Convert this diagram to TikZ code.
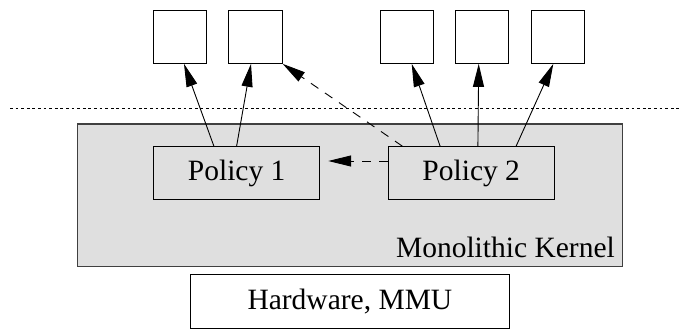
\documentclass[tikz,border=0pt]{standalone}
\usepackage{fontspec}
\setmainfont{Liberation Serif}
\usetikzlibrary{arrows.meta,calc}
\begin{document}
\begin{tikzpicture}[x=1pt,y=1pt,
  font=\fontsize{29.5}{35}\selectfont,
  app/.style={draw,line width=1pt,minimum width=53.3pt,minimum height=53.3pt,inner sep=0pt},
  policy/.style={draw,line width=1pt,fill=gray!25,minimum width=166pt,minimum height=52.6pt,inner sep=0pt},
  call/.style={line width=0.9pt,-{Triangle[length=23pt,width=11pt]}},
  upcall/.style={call,dash pattern=on 9pt off 8pt}]
  \useasboundingbox (0,0) rectangle (679,329);

  % user/kernel boundary
  \draw[line width=0.9pt,dash pattern=on 2.8pt off 2.8pt] (10,220.2) -- (679,220.2);

  % kernel
  \node[draw=black!75,line width=1.2pt,fill=gray!25,minimum width=545pt,minimum height=142.7pt,inner sep=0pt]
    (kern) at (350,133.65) {};
  \node[anchor=base east,inner sep=0pt] (klabel) at (615,71) {Monolithic Kernel};

  % policies
  \node[policy] (p1) at (236.7,156) {Policy 1};
  \node[policy] (p2) at (471.2,156) {Policy 2};

  % hardware
  \node[draw,line width=1pt,minimum width=318.3pt,minimum height=53.5pt,inner sep=0pt]
    (hw) at (349.9,27.75) {Hardware, MMU};

  % user-level tasks
  \node[app] (u1) at (180,292.3) {};
  \node[app] (u2) at (255.5,292.3) {};
  \node[app] (u3) at (406.7,292.3) {};
  \node[app] (u4) at (482.2,292.3) {};
  \node[app] (u5) at (558,292.3) {};

  % connections
  \draw[call] ($(p1.north west)+(60.7,0)$) -- ($(u1.south)+(4,0)$);
  \draw[call] ($(p1.north west)+(83.4,0)$) -- ($(u2.south)+(-4.5,0)$);
  \draw[call] ($(p2.north west)+(52.4,0)$) -- ($(u3.south)+(5,0)$);
  \draw[call] ($(p2.north west)+(90.2,0)$) -- ($(u4.south)+(-3.5,0)$);
  \draw[call] ($(p2.north west)+(128.4,0)$) -- ($(u5.south)+(-4.7,0)$);
  \draw[upcall] ($(p2.north west)+(14.7,0)$) -- (u2.south east);
  \draw[upcall] ($(p2.west)+(0,12)$) -- ($(p1.east)+(8,12)$);
\end{tikzpicture}
\end{document}
